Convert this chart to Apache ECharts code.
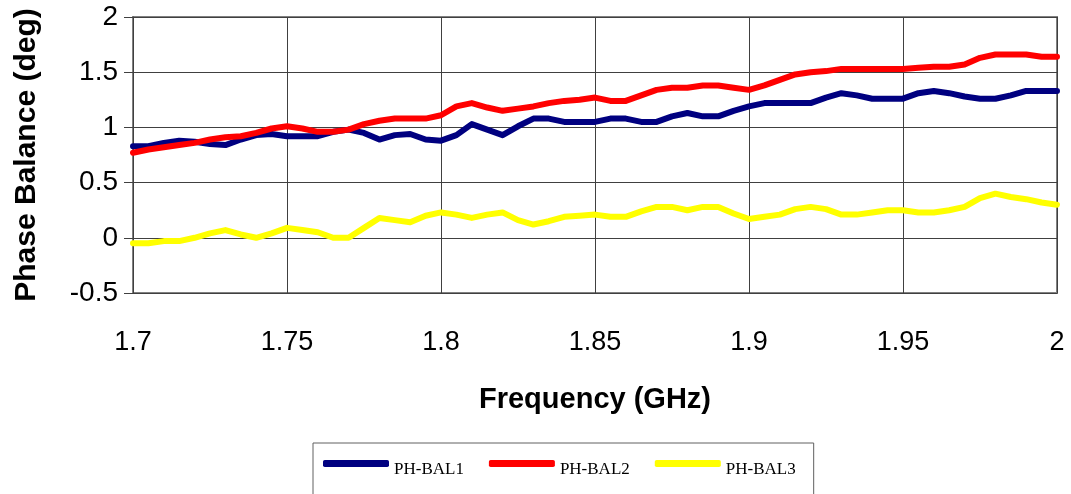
<!DOCTYPE html>
<html>
<head>
<meta charset="utf-8">
<script src="https://cdn.jsdelivr.net/npm/echarts@6/dist/echarts.min.js"></script>
<style>
html,body{margin:0;padding:0;background:#fff;}
#chart{width:1071px;height:494px;}
</style>
</head>
<body>
<div id="chart"></div>
<script>
var frequencies = [1.700,1.705,1.710,1.715,1.720,1.725,1.730,1.735,1.740,1.745,
  1.750,1.755,1.760,1.765,1.770,1.775,1.780,1.785,1.790,1.795,
  1.800,1.805,1.810,1.815,1.820,1.825,1.830,1.835,1.840,1.845,
  1.850,1.855,1.860,1.865,1.870,1.875,1.880,1.885,1.890,1.895,
  1.900,1.905,1.910,1.915,1.920,1.925,1.930,1.935,1.940,1.945,
  1.950,1.955,1.960,1.965,1.970,1.975,1.980,1.985,1.990,1.995,2.000];

var phBal1 = [0.83,0.83,0.86,0.88,0.87,0.85,0.84,0.89,0.93,0.94,
  0.92,0.92,0.92,0.96,0.98,0.95,0.89,0.93,0.94,0.89,
  0.88,0.93,1.03,0.98,0.93,1.01,1.08,1.08,1.05,1.05,
  1.05,1.08,1.08,1.05,1.05,1.10,1.13,1.10,1.10,1.15,
  1.19,1.22,1.22,1.22,1.22,1.27,1.31,1.29,1.26,1.26,
  1.26,1.31,1.33,1.31,1.28,1.26,1.26,1.29,1.33,1.33,1.33];

var phBal2 = [0.77,0.80,0.82,0.84,0.86,0.89,0.91,0.92,0.95,0.99,
  1.01,0.99,0.96,0.96,0.98,1.03,1.06,1.08,1.08,1.08,
  1.11,1.19,1.22,1.18,1.15,1.17,1.19,1.22,1.24,1.25,
  1.27,1.24,1.24,1.29,1.34,1.36,1.36,1.38,1.38,1.36,
  1.34,1.38,1.43,1.48,1.50,1.51,1.53,1.53,1.53,1.53,
  1.53,1.54,1.55,1.55,1.57,1.63,1.66,1.66,1.66,1.64,1.64];

var phBal3 = [-0.05,-0.05,-0.03,-0.03,0.00,0.04,0.07,0.03,0.00,0.04,
  0.09,0.07,0.05,0.00,0.00,0.09,0.18,0.16,0.14,0.20,
  0.23,0.21,0.18,0.21,0.23,0.16,0.12,0.15,0.19,0.20,
  0.21,0.19,0.19,0.24,0.28,0.28,0.25,0.28,0.28,0.22,
  0.17,0.19,0.21,0.26,0.28,0.26,0.21,0.21,0.23,0.25,
  0.25,0.23,0.23,0.25,0.28,0.36,0.40,0.37,0.35,0.32,0.30];

var seriesNames = ['PH-BAL1','PH-BAL2','PH-BAL3'];
var seriesColors = ['#000080','#FF0000','#FFFF00'];
var xTitle = 'Frequency (GHz)';
var yTitle = 'Phase Balance (deg)';

function pairs(ys){ return frequencies.map(function(f,i){ return [f, ys[i]]; }); }
var allValues = [phBal1, phBal2, phBal3];

var chart = echarts.init(document.getElementById('chart'), null, {renderer:'canvas'});
chart.setOption({
  backgroundColor:'#ffffff',
  animation:false,
  grid:{left:133, right:14, top:17, bottom:201, show:true, borderColor:'#808080', borderWidth:2, backgroundColor:'transparent'},
  xAxis:{
    type:'value', min:1.7, max:2, interval:0.05,
    name:xTitle, nameLocation:'middle', nameGap:92,
    nameTextStyle:{fontFamily:'Liberation Sans, Arial', fontWeight:'bold', fontSize:29, color:'#000'},
    axisLine:{show:true, onZero:false, lineStyle:{color:'#404040', width:1}},
    axisTick:{show:false},
    axisLabel:{margin:36, fontFamily:'Liberation Sans, Arial', fontSize:27, color:'#000',
      formatter:function(v){ return String(+v.toFixed(2)); }},
    splitLine:{show:true, lineStyle:{color:'#404040', width:1}}
  },
  yAxis:{
    type:'value', min:-0.5, max:2, interval:0.5,
    name:yTitle, nameLocation:'middle', nameGap:91, nameRotate:90,
    nameTextStyle:{fontFamily:'Liberation Sans, Arial', fontWeight:'bold', fontSize:30, color:'#000'},
    axisLine:{show:true, onZero:false, lineStyle:{color:'#404040', width:1}},
    axisTick:{show:true, inside:false, length:9, lineStyle:{color:'#404040'}},
    axisLabel:{margin:15, fontFamily:'Liberation Sans, Arial', fontSize:28, color:'#000',
      formatter:function(v){ return String(+v.toFixed(2)); }},
    splitLine:{show:true, lineStyle:{color:'#404040', width:1}}
  },
  legend:{
    left:313, top:443, orient:'horizontal',
    padding:[17,18,40,10],
    itemWidth:66, itemHeight:7, itemGap:25,
    icon:'roundRect',
    borderColor:'#606060', borderWidth:1,
    selectedMode:false,
    formatter:function(n){ return '{t|' + n + '}'; },
    textStyle:{
      fontFamily:'Liberation Serif, Times New Roman', fontSize:17, color:'#000',
      rich:{t:{fontFamily:'Liberation Serif, Times New Roman', fontSize:17, color:'#000', padding:[12,0,0,0]}}
    },
    data:seriesNames
  },
  series:seriesNames.map(function(n,k){
    return {
      name:n, type:'line', data:pairs(allValues[k]),
      showSymbol:false, symbol:'none', smooth:false,
      color:seriesColors[k],
      lineStyle:{color:seriesColors[k], width:6, join:'round', cap:'round'},
      z:2+k
    };
  })
});
</script>
</body>
</html>
